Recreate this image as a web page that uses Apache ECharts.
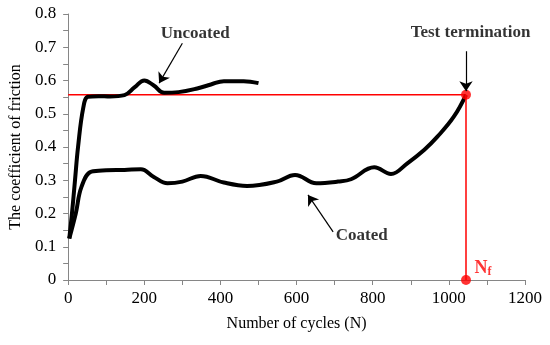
<!DOCTYPE html>
<html><head><meta charset="utf-8">
<script src="https://cdn.jsdelivr.net/npm/echarts@6/dist/echarts.min.js"></script>
<style>html,body{margin:0;padding:0;background:#fff}#c{width:550px;height:345px}</style>
</head><body><div id="c"></div>
<script>
var uncoated = [[3,0.125],[10,0.2],[18,0.30],[26,0.40],[40,0.52],[52,0.551],[80,0.553],[110,0.552],[148,0.556],[175,0.58],[200,0.600],[225,0.585],[252,0.563],[290,0.565],[339,0.576],[375,0.588],[409,0.598],[461,0.598],[500,0.592]];
var coated = [[3,0.125],[20,0.2],[35,0.28],[61,0.326],[100,0.330],[148,0.331],[191,0.333],[225,0.31],[261,0.291],[300,0.296],[348,0.313],[409,0.293],[470,0.283],[548,0.296],[596,0.316],[652,0.291],[709,0.296],[743,0.303],[804,0.339],[848,0.319],[891,0.351],[935,0.391],[970,0.431],[1013,0.491],[1045,0.557]];
var termination = [1045, 0.557];
var xTicks = [0,200,400,600,800,1000,1200];
var yTicks = [0,0.1,0.2,0.3,0.4,0.5,0.6,0.7,0.8];
var arrows = [
  [[300,0.712],[239,0.592]],
  [[1045,0.688],[1045,0.568]],
  [[696,0.145],[630,0.256]]
];
var labels = [
  {name:'Uncoated', value:[334,0.742]},
  {name:'Test termination', value:[1057,0.743]},
  {name:'Coated', value:[771,0.135]}
];
var nfLabel = [1090,0.036];

var font = '"Liberation Serif","Times New Roman",serif';
var chart = echarts.init(document.getElementById('c'), null, {renderer:'canvas'});
chart.setOption({
  animation:false,
  grid:{left:65,right:25,top:14,bottom:65},
  xAxis:{type:'value',min:0,max:1200,interval:200,
    name:'Number of cycles (N)',nameLocation:'middle',nameGap:36,
    nameTextStyle:{fontFamily:font,fontSize:16,color:'#000'},
    axisLine:{lineStyle:{color:'#868686',width:1}},
    axisTick:{show:true,length:5,lineStyle:{color:'#868686'}},
    minorTick:{show:true,splitNumber:2,length:5,lineStyle:{color:'#868686'}},
    axisLabel:{fontFamily:font,fontSize:17,color:'#000',margin:10,
      formatter:function(v){return String(v);}},
    splitLine:{show:false}},
  yAxis:{type:'value',min:0,max:0.8,interval:0.1,
    name:'The coefficient of friction',nameLocation:'middle',nameGap:44,
    nameTextStyle:{fontFamily:font,fontSize:16,color:'#000'},
    axisLine:{show:true,lineStyle:{color:'#868686',width:1}},
    axisTick:{show:true,length:5,lineStyle:{color:'#868686'}},
    minorTick:{show:true,splitNumber:2,length:5,lineStyle:{color:'#868686'}},
    axisLabel:{fontFamily:font,fontSize:17,color:'#000',margin:12,
      formatter:function(v){return v===0?'0':v.toFixed(1);}},
    splitLine:{show:false}},
  series:[
    {type:'line',data:[[0,termination[1]],termination],symbol:'none',
     lineStyle:{color:'#ff0000',width:1.5},z:1,
     markLine:{silent:true,symbol:'none',lineStyle:{color:'#ff0000',width:1.5,type:'solid'},label:{show:false},
       data:[[{coord:[termination[0],termination[1]]},{coord:[termination[0],0]}]]}},
    {type:'line',data:uncoated,smooth:0.4,symbol:'none',lineStyle:{color:'#000',width:4},z:3},
    {type:'line',data:coated,smooth:0.4,symbol:'none',lineStyle:{color:'#000',width:4},z:3},
    {type:'scatter',data:[termination,[termination[0],0]],symbolSize:10,itemStyle:{color:'#ff0000'},z:4},
    {type:'line',data:[],symbol:'none',
     markLine:{silent:true,symbol:['none','arrow'],symbolSize:10,
       lineStyle:{color:'#000',width:1.2,type:'solid'},label:{show:false},
       data:arrows.map(function(a){return [{coord:a[0]},{coord:a[1]}];})}},
    {type:'scatter',data:labels,symbolSize:0,z:5,
     label:{show:true,position:'inside',formatter:'{b}',fontFamily:font,fontSize:17,fontWeight:'bold',color:'#000'}},
    {type:'scatter',data:[nfLabel],symbolSize:0,z:5,
     label:{show:true,position:'inside',formatter:'{n|N}{f|f}',
       rich:{n:{fontFamily:font,fontSize:18,fontWeight:'bold',color:'#ff0000'},
             f:{fontFamily:font,fontSize:12,fontWeight:'bold',color:'#ff0000',verticalAlign:'bottom',padding:[8,0,0,0]}}}}
  ]
});
</script></body></html>
